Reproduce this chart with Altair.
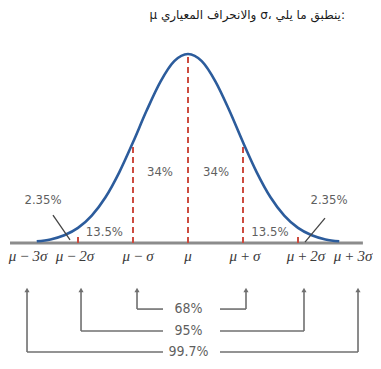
import altair as alt
import pandas as pd

# ---- data (x in sigma units from the mean, y as fraction of peak height) ----
curve_z = [-2.75, -2.5, -2.25, -2.0, -1.75, -1.5, -1.25, -1.0, -0.75, -0.5, -0.25, 0.0,
           0.25, 0.5, 0.75, 1.0, 1.25, 1.5, 1.75, 2.0, 2.25, 2.5, 2.75]
curve_h = [0.009, 0.019, 0.041, 0.080, 0.145, 0.242, 0.374, 0.533, 0.702, 0.854, 0.962, 1.0,
           0.962, 0.854, 0.702, 0.533, 0.374, 0.242, 0.145, 0.080, 0.041, 0.019, 0.009]

red_z = [-2, -1, 0, 1, 2]
red_top = [0.05, 0.529, 1.0, 0.529, 0.05]

T = "\u2009"
tick_text = ["μ" + T + "−" + T + "3σ", "μ" + T + "−" + T + "2σ", "μ" + T + "−" + T + "σ", "μ",
             "μ" + T + "+" + T + "σ", "μ" + T + "+" + T + "2σ", "μ" + T + "+" + T + "3σ"]
tick_z = [-2.909, -2.055, -0.909, 0.0, 1.036, 2.145, 3.0]
tick_y = -0.069

pct_text = ["2.35%", "13.5%", "34%", "34%", "13.5%", "2.35%"]
pct_z = [-2.636, -1.52, -0.51, 0.51, 1.49, 2.564]
pct_y = [0.228, 0.058, 0.376, 0.376, 0.058, 0.228]

ptr_z = [-2.455, 2.491]
ptr_y = [0.148, 0.132]
ptr_z2 = [-2.145, 2.127]
ptr_y2 = [0.016, 0.005]

bracket_text = ["68%", "95%", "99.7%"]
bracket_left = [-0.927, -1.945, -2.927]
bracket_right = [1.0545, 2.109, 3.091]
bracket_y = [-0.3495, -0.4656, -0.5767]
gap_left = -0.4545
gap_right = 0.5818
arrow_top = -0.2487
text_mid = 0.01

base_z = [-3.236, 3.18]

# Arabic line; a leading RLM makes the line read right-to-left
title_text = "\u200Fμ والانحراف المعياري σ، ينطبق ما يلي:"
title_z = 2.8545
title_y = 1.206

# ---- scales ----
XS = alt.Scale(domain=[-3.2727, 3.3636], nice=False, zero=False)
YS = alt.Scale(domain=[-0.6243, 1.2434], nice=False, zero=False)

def X(f):
    return alt.X(f, type="quantitative", scale=XS, axis=None)

def Y(f):
    return alt.Y(f, type="quantitative", scale=YS, axis=None)

curve_df = pd.DataFrame({"z": curve_z, "h": curve_h})
red_df = pd.DataFrame({"z": red_z, "top": red_top, "b": [0.0] * len(red_z)})
tick_df = pd.DataFrame({"z": tick_z, "t": tick_text, "y": [tick_y] * len(tick_z)})
pct_df = pd.DataFrame({"z": pct_z, "y": pct_y, "t": pct_text})
ptr_df = pd.DataFrame({"z": ptr_z, "y": ptr_y, "z2": ptr_z2, "y2": ptr_y2})
base_df = pd.DataFrame({"z": [base_z[0]], "z2": [base_z[1]], "y": [0.0]})

seg_rows = []
arrow_rows = []
for L, R, yy in zip(bracket_left, bracket_right, bracket_y):
    seg_rows.append({"x": L, "x2": L, "y": arrow_top, "y2": yy})
    seg_rows.append({"x": R, "x2": R, "y": arrow_top, "y2": yy})
    seg_rows.append({"x": L, "x2": gap_left, "y": yy, "y2": yy})
    seg_rows.append({"x": gap_right, "x2": R, "y": yy, "y2": yy})
    arrow_rows.append({"x": L, "y": arrow_top})
    arrow_rows.append({"x": R, "y": arrow_top})
seg_df = pd.DataFrame(seg_rows)
arrow_df = pd.DataFrame(arrow_rows)
btxt_df = pd.DataFrame({"x": [text_mid] * 3, "y": bracket_y, "t": bracket_text})
title_df = pd.DataFrame({"z": [title_z], "y": [title_y], "t": [title_text]})

NARROW = "Liberation Sans Narrow, DejaVu Sans Condensed, sans-serif"
GRAY_TXT = "#5f5f5f"

baseline = alt.Chart(base_df).mark_rule(color="#8c8c8c", strokeWidth=3).encode(
    x=X("z"), x2="z2", y=Y("y"))

red = alt.Chart(red_df).mark_rule(color="#cc4b3f", strokeWidth=2, strokeDash=[6, 4]).encode(
    x=X("z"), y=Y("b"), y2="top")

curve = alt.Chart(curve_df).mark_line(color="#2c5c9c", strokeWidth=2.6, interpolate="monotone").encode(
    x=X("z"), y=Y("h"))

ticks = alt.Chart(tick_df).mark_text(font="Liberation Serif", fontStyle="italic", fontSize=15,
                                     color="#3a3a3a", baseline="middle").encode(
    x=X("z"), y=Y("y"), text="t")

pcts = alt.Chart(pct_df).mark_text(font=NARROW, fontSize=13, color=GRAY_TXT, baseline="middle").encode(
    x=X("z"), y=Y("y"), text="t")

ptrs = alt.Chart(ptr_df).mark_rule(color="#444444", strokeWidth=1.3).encode(
    x=X("z"), y=Y("y"), x2="z2", y2="y2")

segs = alt.Chart(seg_df).mark_rule(color="#6f6f6f", strokeWidth=1.6).encode(
    x=X("x"), x2="x2", y=Y("y"), y2="y2")

arrows = alt.Chart(arrow_df).mark_point(shape="triangle-up", filled=True, size=26,
                                        color="#6f6f6f", opacity=1).encode(
    x=X("x"), y=Y("y"))

btxt = alt.Chart(btxt_df).mark_text(font=NARROW, fontSize=14, color=GRAY_TXT, baseline="middle").encode(
    x=X("x"), y=Y("y"), text="t")

title = alt.Chart(title_df).mark_text(font="DejaVu Sans", fontSize=12, color="#1a1a1a",
                                      align="right", baseline="middle").encode(
    x=X("z"), y=Y("y"), text="t")

chart = alt.layer(baseline, red, curve, ticks, pcts, ptrs, segs, arrows, btxt, title).properties(
    width=365, height=353,
    autosize=alt.AutoSizeParams(type="none"),
    padding=0,
).configure_view(stroke=None)

chart.save("out.html", embed_options={"renderer": "svg", "actions": False})
